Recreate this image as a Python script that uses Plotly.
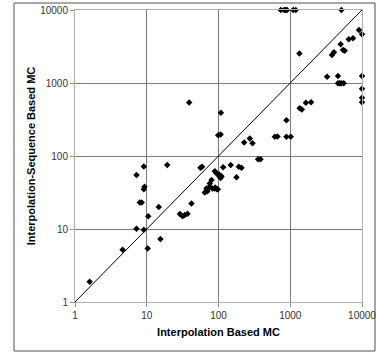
import plotly.graph_objects as go

# Interpolation Based MC (x) vs Interpolation-Sequence Based MC (y)
x_interp = [
    1.6, 4.6, 7.2, 9.1, 10.3, 15.5, 14.7, 10.5, 8.0, 8.5, 9.1, 9.3, 7.2, 9.1, 19.3,
    39, 42, 29, 31.5, 34, 37, 56, 59,
    64.5, 70, 75.7, 80, 68, 75, 82, 88, 95, 90, 98, 89, 94, 100, 104, 107, 102, 110,
    116, 148, 192, 209, 178, 99, 107, 108, 228, 273, 298, 356, 385, 609, 664, 885,
    1016, 885,
    738, 821, 865, 903, 1099, 1193, 5160,
    1340, 3820, 4074, 5047, 5434, 5740, 6530, 7490, 9080, 10000,
    3258, 4634, 4634, 4888, 5157, 5558,
    10000, 10000, 10000, 10000,
    1350, 1450, 1650, 1950,
]
y_seq = [
    1.9, 5.2, 10.1, 9.8, 5.4, 7.3, 20, 15, 23, 23, 35, 38, 55, 72, 75,
    540, 22.3, 16, 15, 15.5, 16.2, 69, 71,
    31.5, 33, 42, 47, 36, 38, 36, 36, 35, 37, 35, 62, 58, 55, 52, 50, 56, 53,
    70, 75, 71, 69, 51, 193, 197, 390, 153, 174, 149, 90, 90, 183, 185, 183,
    183, 310,
    10000, 10000, 10000, 10000, 10000, 10000, 10000,
    2540, 2420, 2630, 3390, 2830, 2760, 3970, 4090, 5320, 4640,
    1218, 1245, 990, 990, 990, 990,
    1245, 835, 628, 545,
    450, 435, 535, 545,
]
diag = [1, 10000]
tick_vals = [1, 10, 100, 1000, 10000]
tick_text = ["1", "10", "100", "1000", "10000"]

fig = go.Figure()
fig.add_trace(go.Scatter(x=diag, y=diag, mode="lines",
                         line=dict(color="black", width=1), hoverinfo="skip",
                         showlegend=False))
fig.add_trace(go.Scatter(x=x_interp, y=y_seq, mode="markers",
                         marker=dict(symbol="diamond", size=5, color="black"),
                         cliponaxis=False, showlegend=False))

axis_common = dict(
    type="log", range=[0, 4.00001], tickvals=tick_vals, ticktext=tick_text,
    showgrid=True, gridcolor="#7a7a7a", gridwidth=1,
    showline=True, linecolor="#b0b0b0", linewidth=1, mirror=True,
    ticks="outside", ticklen=4, tickcolor="#8c8c8c",
    ticklabeloverflow="allow", automargin=False,
    tickfont=dict(family="Liberation Sans, Arial", size=10, color="#333333"),
    zeroline=False,
)

fig.update_layout(
    width=376, height=355,
    margin=dict(l=75, r=14, t=10, b=53),
    paper_bgcolor="white", plot_bgcolor="white",
    xaxis=dict(**axis_common,
               title=dict(text="<b>Interpolation Based MC</b>", standoff=8,
                          font=dict(family="Liberation Sans, Arial", size=11, color="black"))),
    yaxis=dict(**axis_common,
               title=dict(text="<b>Interpolation-Sequence Based MC</b>", standoff=2,
                          font=dict(family="Liberation Sans, Arial", size=11, color="black"))),
    shapes=[dict(type="rect", xref="paper", yref="paper",
                 x0=(14 - 75) / 287, x1=(375 - 75) / 287,
                 y0=(302 - 351) / 292, y1=(302 - 3) / 292,
                 line=dict(color="#505050", width=1), layer="below")],
)

fig.write_html("out.html")
